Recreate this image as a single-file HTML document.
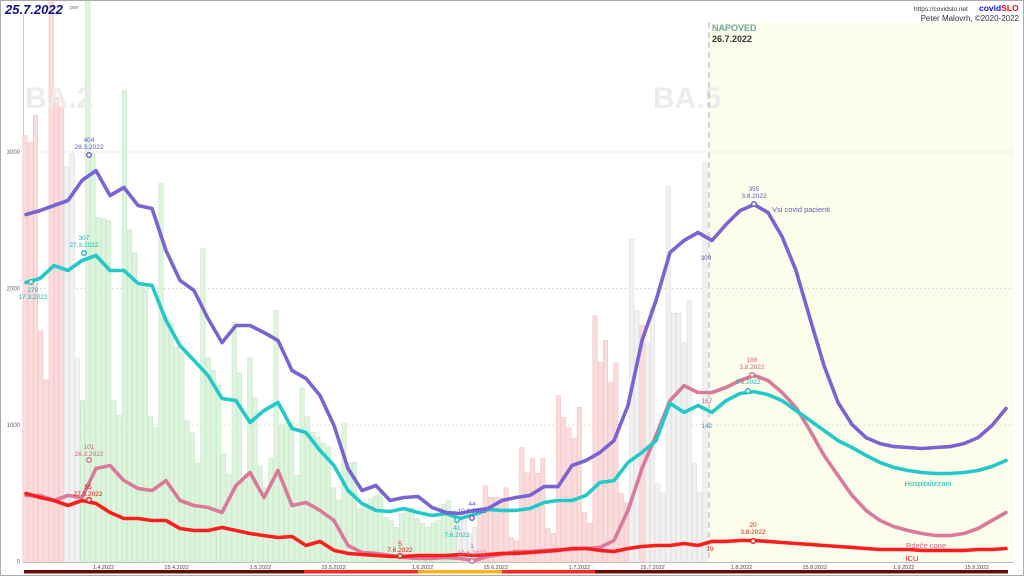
<!DOCTYPE html>
<html><head><meta charset="utf-8">
<style>
html,body{margin:0;padding:0;background:#fff;}
body{width:1024px;height:576px;overflow:hidden;font-family:"Liberation Sans",sans-serif;}
svg text{font-family:"Liberation Sans",sans-serif;}
</style></head>
<body>
<svg id="chart" width="1024" height="576" viewBox="0 0 1024 576" xmlns="http://www.w3.org/2000/svg">
<rect x="0.5" y="0.5" width="1023" height="575" fill="#fff" stroke="#aaa"/>
<rect x="710" y="23" width="304" height="539" fill="#fdfdeb"/>
<g id="grid"></g>
<g id="bars"></g>
<text x="25" y="108" font-size="30" font-weight="bold" fill="#ececec">BA.2</text>
<text x="653" y="108" font-size="30" font-weight="bold" fill="#ececec">BA.5</text>
<line x1="709" y1="22" x2="709" y2="562" stroke="#aaa" stroke-dasharray="6,4"/>
<g id="lines"></g>
<g id="ann"></g>
<text x="5" y="14" font-size="13" font-weight="bold" font-style="italic" fill="#10108a">25.7.2022</text>
<text x="70" y="9" font-size="5" fill="#666">pon</text>
<text x="712" y="31" font-size="9" font-weight="bold" fill="#6aa8a8">NAPOVED</text>
<text x="712" y="42" font-size="9" font-weight="bold" fill="#333">26.7.2022</text>
<text x="914" y="11" font-size="6.5" fill="#333">https://covidslo.net</text>
<text x="979" y="11" font-size="8.5" font-weight="bold" fill="#1010ee">covid<tspan fill="#ee1010">SLO</tspan></text>
<text x="1019" y="21" font-size="8" fill="#333" text-anchor="end">Peter Malovrh, ©2020-2022</text>
<g id="band"></g>
</svg>
<script>
const yTicks=[0,1000,2000,3000];
const xTickLabels=["1.4.2022","15.4.2022","1.5.2022","15.5.2022","1.6.2022","15.6.2022","1.7.2022","15.7.2022","1.8.2022","15.8.2022","1.9.2022","15.9.2022"];
const xTickDays=[15,29,45,59,76,90,106,120,137,151,168,182];
const barVals=[3120,3070,3270,1690,1330,4100,3400,3330,2890,2990,1490,1180,4100,2990,2520,2510,2500,1180,1070,3450,2430,2260,2045,2020,1060,980,2770,1800,1745,1570,1530,1030,940,720,2290,1490,1400,1290,790,640,1750,1380,590,1490,1200,700,540,755,1840,1000,1010,1020,630,1270,1060,945,910,865,840,540,450,1010,720,725,390,425,460,480,500,320,300,250,350,380,390,315,280,250,285,300,420,450,375,320,300,200,250,350,555,470,470,460,540,175,150,835,650,755,645,755,240,205,1215,1055,980,900,1130,360,280,1800,1460,1620,1310,1450,500,430,2360,1840,1730,1600,1860,570,500,2750,1820,1820,1600,1910,720,505,2925];
const barTypes="rrrrrrrrwwwggggggggggggggggggggggggggggggggggggggggggggggggggggggggggggggggggggggggwwwwrrrrrrrrrrrrrrrrrrrrrrrrrrrrrwwrwwwwwww";
const lineStepDays=2.677;
const allPatients=[2542,2571,2608,2645,2791,2864,2681,2740,2608,2586,2278,2059,1985,1780,1604,1729,1729,1678,1619,1399,1341,1216,996,681,520,557,447,469,476,396,359,352,374,388,447,469,484,549,549,703,740,799,886,1143,1619,1912,2264,2352,2410,2352,2469,2571,2615,2557,2381,2132,1780,1436,1165,1004,908,864,842,835,828,835,842,864,908,996,1121];
const hospitalized=[2044,2073,2168,2132,2205,2242,2132,2132,2037,2022,1766,1582,1473,1363,1194,1179,1018,1106,1165,974,945,813,703,520,425,374,366,388,359,337,352,315,344,381,374,374,388,432,447,447,484,579,593,725,799,886,1158,1092,1143,1092,1179,1231,1245,1223,1179,1106,1033,960,886,835,777,725,689,667,652,645,645,652,667,696,740];
const redZones=[484,484,447,484,469,681,703,593,535,520,593,447,410,396,359,557,652,469,667,410,432,374,300,117,66,59,44,29,22,22,29,22,7,37,51,73,73,81,88,88,95,103,154,374,681,923,1179,1289,1238,1238,1275,1326,1363,1326,1238,1128,960,777,630,484,374,300,256,227,205,190,190,205,242,300,359];
const icu=[498,469,447,410,447,425,359,315,315,300,300,242,227,227,249,227,205,190,176,183,117,147,81,59,51,44,37,37,44,44,44,51,44,51,59,59,66,73,81,95,95,81,73,95,110,117,117,132,117,147,147,154,154,147,139,132,125,117,110,103,95,88,88,88,81,81,81,81,88,88,95];
const NS="http://www.w3.org/2000/svg";
const X=d=>25+d*5.23;
const Y=v=>561.5-v*0.1365;
function mk(tag,attrs,parent){const e=document.createElementNS(NS,tag);for(const k in attrs)e.setAttribute(k,attrs[k]);parent.appendChild(e);return e;}
const grid=document.getElementById('grid');
yTicks.forEach(t=>{
  if(t>0){const gl=mk('line',{x1:24,x2:1013,y1:Y(t),y2:Y(t),stroke:'#ddd','stroke-dasharray':'2,2'},grid);
  
  }
  const tl=mk('text',{x:20,y:Y(t)+2,'font-size':6,fill:'#666','text-anchor':'end'},grid);tl.textContent=t;
  
  
});
const ax=mk('line',{x1:23.5,x2:23.5,y1:15,y2:562,stroke:'#ccc'},grid);


const bx=mk('line',{x1:23,x2:1013,y1:562.5,y2:562.5,stroke:'#bbb'},grid);


xTickLabels.forEach((l,i)=>{
  const t=mk('text',{x:X(xTickDays[i]),y:569,'font-size':5.5,fill:'#444','text-anchor':'middle'},grid);t.textContent=l;
  
  
});
const bars=document.getElementById('bars');
const fills={r:'#fbdcdc',g:'#dcf5dc',w:'#f1f1f1'};const strokes={r:'#f1c4c4',g:'#c6e6c6',w:'#dedede'};
barVals.forEach((v,i)=>{
  const tp=barTypes[i]||'w';const top=Math.max(Y(v),0);
  const r=mk('rect',{x:X(i)-2.2,y:top,width:4.4,height:562-top,fill:fills[tp],stroke:strokes[tp],'stroke-width':0.6},bars);
  
  
});
const lines=document.getElementById('lines');
function drawLine(arr,color,name){
  const pts=arr.map((v,i)=>X(0.19+i*lineStepDays).toFixed(1)+','+Y(v).toFixed(1)).join(' ');
  const p=mk('polyline',{points:pts,fill:'none',stroke:color,'stroke-width':3.6,'stroke-linejoin':'round','stroke-linecap':'round'},lines);
  
  
}
drawLine(redZones,'#d97a9c','line-red-zones');
drawLine(hospitalized,'#23c9c9','line-hospitalized');
drawLine(allPatients,'#7a63d3','line-all-patients');
drawLine(icu,'#ff1e1e','line-icu');
const ann=document.getElementById('ann');
function label(x,y,txt,color,size,anchor){const t=mk('text',{x:x,y:y,'font-size':size||6.5,fill:color,'text-anchor':anchor||'middle'},ann);t.textContent=txt;
  
  }
function dot(x,y,color){const c=mk('circle',{cx:x,cy:y,r:2.3,fill:'#fff',stroke:color,'stroke-width':1.3},ann);
  
  }
const P='#6a55cc',C='#15b5b5',K='#cc6688',R='#ee1111';
dot(89,155,P);label(89,142,'404',P);label(89,149,'28.3.2022',P);
dot(84,253,C);label(84,240,'307',C);label(84,247,'27.3.2022',C);
dot(31,282,C);label(33,292,'278',C);label(33,299,'17.3.2022',C);
dot(89,460,K);label(89,449,'101',K);label(89,456,'28.3.2022',K);
dot(89,500,R);label(88,489,'55',R);label(88,496,'27.3.2022',R);
dot(400,556,R);label(400,546,'5',R);label(400,552,'7.6.2022',R);
dot(457,520,C);label(457,530,'41',C);label(457,537,'7.6.2022',C);
dot(472,518,P);label(472,506,'44',P);label(472,513,'10.6.2022',P);
dot(472,561,K);label(472,548,'1',K);label(472,555,'10.6.2022',K);
label(706,260,'309',P);label(707,403,'167',K);label(707,428,'142',C);label(710,551,'19',R);
dot(754,204,P);label(754,191,'355',P);label(754,198,'3.8.2022',P);label(772,212,'Vsi covid pacienti',P,7.5,'start');
dot(752,375,K);label(752,362,'186',K);label(752,369,'3.8.2022',K);
dot(748,391,C);label(748,384,'3.8.2022',C);
dot(753,541,R);label(753,527,'20',R);label(753,534,'3.8.2022',R);
label(928,486,'Hospitalizirani',C,7.5);label(926,548,'Rdeče cone',K,7.5);label(912,561,'ICU',R,7.5);
const band=document.getElementById('band');
const bandSegs=[[24,304,'#6b0a0a'],[304,418,'#ff2a1a'],[418,502,'#ffb020'],[502,595,'#ff2a1a'],[595,1008,'#6b0a0a']];
bandSegs.forEach(s=>{const r=mk('rect',{x:s[0],y:570,width:s[1]-s[0],height:3.5,fill:s[2]},band);
  
  });
</script>
</body></html>
